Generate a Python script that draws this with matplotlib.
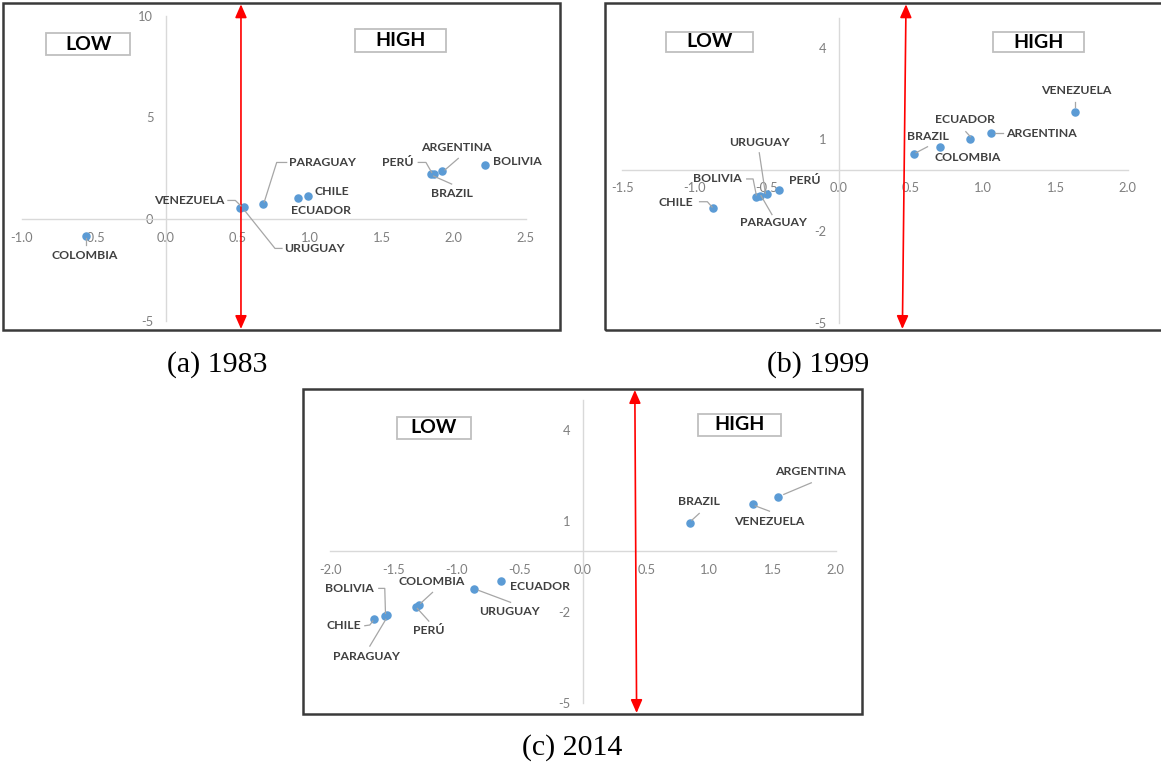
import matplotlib.pyplot as plt
from matplotlib.patches import Rectangle
from matplotlib.lines import Line2D

W, H = 1161, 764
plt.rcParams['font.family'] = ['Lato', 'DejaVu Sans']

# ---- data ----
countries_1983 = ['COLOMBIA', 'VENEZUELA', 'URUGUAY', 'PARAGUAY', 'ECUADOR',
                  'CHILE', 'PERÚ', 'BRAZIL', 'ARGENTINA', 'BOLIVIA']
x_1983 = [-0.555, 0.515, 0.543, 0.677, 0.92, 0.99, 1.84, 1.86, 1.92, 2.22]
y_1983 = [-0.82, 0.53, 0.58, 0.74, 1.03, 1.15, 2.24, 2.22, 2.35, 2.67]
cut_1983 = (0.522, 0.522)   # threshold line x at bottom / top

countries_1999 = ['VENEZUELA', 'ARGENTINA', 'ECUADOR', 'COLOMBIA', 'BRAZIL',
                  'PERÚ', 'URUGUAY', 'PARAGUAY', 'BOLIVIA', 'CHILE']
x_1999 = [1.636, 1.055, 0.911, 0.702, 0.519, -0.412, -0.499, -0.546, -0.573, -0.873]
y_1999 = [1.91, 1.20, 1.01, 0.75, 0.52, -0.66, -0.78, -0.84, -0.90, -1.26]
cut_1999 = (0.44, 0.465)

countries_2014 = ['ARGENTINA', 'VENEZUELA', 'BRAZIL', 'ECUADOR', 'URUGUAY',
                  'COLOMBIA', 'PERÚ', 'BOLIVIA', 'PARAGUAY', 'CHILE']
x_2014 = [1.547, 1.349, 0.846, -0.653, -0.865, -1.30, -1.32, -1.549, -1.57, -1.654]
y_2014 = [1.80, 1.55, 0.93, -0.98, -1.24, -1.77, -1.82, -2.10, -2.13, -2.23]
cut_2014 = (0.424, 0.41)

# label placement: offset (px right, px down), alignment, leader line vertices
labels_1983 = {
    'COLOMBIA': (-1, 20, 'center', [(0, 2.5), (0, 9)]),
    'VENEZUELA': (-16, -8, 'right', [(-12, -8), (-4.6, -8), (1, -2.5)]),
    'URUGUAY': (40, 41, 'left', [(1, 3.5), (31, 41), (38, 41)]),
    'PARAGUAY': (26, -41.7, 'left', [(23.4, -41.7), (13.4, -41.7), (1, -2.3)]),
    'ECUADOR': (22.4, 12.6, 'center', None),
    'CHILE': (6.6, -4, 'left', None),
    'PERÚ': (-17.5, -11.2, 'right', [(-12.5, -11.2), (-4.8, -11.2), (0.9, -1.2)]),
    'BRAZIL': (18, 19, 'center', [(0, 2), (18, 10)]),
    'ARGENTINA': (14.4, -24, 'center', [(16, -13), (2.7, -1.5)]),
    'BOLIVIA': (8, -3.4, 'left', None),
}
labels_1999 = {
    'VENEZUELA': (0.7, -21.7, 'center', [(0, -10), (0, -4.4)]),
    'ARGENTINA': (15, 0, 'left', [(4, 0), (11.4, 0)]),
    'ECUADOR': (-5.3, -19.2, 'center', [(-4.6, -7.5), (0, -2.5)]),
    'COLOMBIA': (27.2, 10.2, 'center', None),
    'BRAZIL': (13.7, -17.4, 'center', [(2.3, -1.4), (13.7, -7.4)]),
    'PERÚ': (9.2, -10.1, 'left', None),
    'URUGUAY': (-7.5, -51.1, 'center', [(-7.5, -41), (-1.4, -0.5)]),
    'PARAGUAY': (13.5, 27.1, 'center', [(12, 19), (1, 0)]),
    'BOLIVIA': (-14.8, -19.2, 'right', [(-9.4, -18.5), (-3, -18.5), (0.2, -2.5)]),
    'CHILE': (-19.7, -6.1, 'right', [(-13.2, -6.7), (-5.4, -6.7), (-0.7, -1.4)]),
}
labels_2014 = {
    'ARGENTINA': (32.1, -25.1, 'center', [(32.8, -14.1), (5.3, -2.5)]),
    'VENEZUELA': (16, 16.7, 'center', [(1.8, 1.4), (16, 6.7)]),
    'BRAZIL': (9.3, -21.4, 'center', [(9.3, -9.8), (2, -3.1)]),
    'ECUADOR': (9.3, 5.3, 'left', None),
    'URUGUAY': (36.1, 22.8, 'center', [(4.7, 1.4), (36.8, 13.4)]),
    'COLOMBIA': (12.7, -23.2, 'center', [(13.7, -12.6), (1.7, -1.6)]),
    'PERÚ': (12.8, 24.3, 'center', [(1, 1.9), (12.5, 14.6)]),
    'BOLIVIA': (-37.6, -26.6, 'center', [(-8.6, -26.6), (-2.6, -26.6), (-1.9, -1.6)]),
    'PARAGUAY': (-18.2, 40.9, 'center', [(-14.9, 30.2), (1.1, 3.5)]),
    'CHILE': (-13.3, 6.8, 'right', [(-9.3, 6.8), (-4.3, 6.1), (-1.3, 2.1)]),
}

fig = plt.figure(figsize=(W / 100, H / 100), dpi=100)


def box(l, t, r, b):
    """pixel box (top-left origin) -> figure fraction rect"""
    return [l / W, 1 - b / H, (r - l) / W, (b - t) / H]


def tag(l, t, r, b, text):
    fig.add_artist(Rectangle((l / W, 1 - b / H), (r - l) / W, (b - t) / H,
                             transform=fig.transFigure, facecolor='white',
                             edgecolor='#bfbfbf', lw=1.3))
    fig.text((l + r) / 2 / W, 1 - (t + b) / 2 / H, text, ha='center', va='center',
             fontsize=14, fontweight='bold', color='black')


def panel(frame, plot, xlim, xticks, ylim, yticks, names, xs, ys, layout, cut,
          low, high, caption, cap_xy):
    fl, ft, fr, fb = frame
    fig.add_artist(Rectangle((fl / W, 1 - fb / H), (fr - fl) / W, (fb - ft) / H,
                             transform=fig.transFigure, fill=False,
                             edgecolor='#3a3a3a', lw=1.8))
    ax = fig.add_axes(box(*plot))
    ax.patch.set_visible(False)
    ax.set_xlim(*xlim)
    ax.set_ylim(*ylim)
    for s in ['top', 'right']:
        ax.spines[s].set_visible(False)
    for s in ['left', 'bottom']:
        ax.spines[s].set_position(('data', 0))
        ax.spines[s].set_color('#d9d9d9')
        ax.spines[s].set_linewidth(1.0)
    ax.set_xticks(xticks)
    ax.set_xticklabels([f'{v:.1f}' for v in xticks])
    ax.set_yticks(yticks)
    ax.set_yticklabels([f'{v:d}' for v in yticks])
    ax.tick_params(length=0, labelsize=9.3, labelcolor='#7f7f7f')
    ax.tick_params(axis='x', pad=9)
    ax.tick_params(axis='y', pad=9)

    tag(*low, 'LOW')
    tag(*high, 'HIGH')

    ax.scatter(xs, ys, s=26, color='#5b9bd5', zorder=3, clip_on=False)
    for name, x, y in zip(names, xs, ys):
        dx, dy, ha, leader = layout[name]
        ax.annotate(name, (x, y), xytext=(dx, -dy), textcoords='offset pixels',
                    ha=ha, va='center', fontsize=8.8, fontweight='bold',
                    color='#404040', annotation_clip=False)
        if leader:
            bx, by = ax.transData.transform((x, y))
            lx = [(bx + p[0]) / W for p in leader]
            ly = [(by - p[1]) / H for p in leader]
            fig.add_artist(Line2D(lx, ly, transform=fig.transFigure,
                                  color='#a6a6a6', lw=0.9))

    ax.annotate('', xy=(cut[1], 1 - (ft + 1) / H), xytext=(cut[0], 1 - (fb - 1) / H),
                xycoords=('data', 'figure fraction'),
                textcoords=('data', 'figure fraction'),
                arrowprops=dict(arrowstyle='<|-|>,head_length=0.8,head_width=0.35',
                                color='red', lw=1.2, shrinkA=0, shrinkB=0),
                annotation_clip=False)

    fig.text(cap_xy[0] / W, 1 - cap_xy[1] / H, caption, ha='center', va='baseline',
             fontsize=21.5, family='Liberation Serif', color='black')
    return ax


panel((3, 3.3, 560, 330), (21.8, 15.7, 525.8, 321), (-1.0, 2.5),
      [-1.0, -0.5, 0.0, 0.5, 1.0, 1.5, 2.0, 2.5], (-5, 10), [-5, 0, 5, 10],
      countries_1983, x_1983, y_1983, labels_1983, cut_1983,
      (46.3, 33.3, 130, 55), (354.8, 29, 445.6, 52.3), '(a) 1983', (217, 372))

panel((604.7, 3.3, 1166, 330), (622.2, 17.5, 1127.7, 322.5), (-1.5, 2.0),
      [-1.5, -1.0, -0.5, 0.0, 0.5, 1.0, 1.5, 2.0], (-5, 5), [-5, -2, 1, 4],
      countries_1999, x_1999, y_1999, labels_1999, cut_1999,
      (666.2, 31.7, 753.1, 51.7), (992.5, 31.7, 1083.7, 52.3), '(b) 1999', (818, 372))

panel((303.3, 389, 862.3, 714), (330.4, 400, 835.7, 702.8), (-2.0, 2.0),
      [-2.0, -1.5, -1.0, -0.5, 0.0, 0.5, 1.0, 1.5, 2.0], (-5, 5), [-5, -2, 1, 4],
      countries_2014, x_2014, y_2014, labels_2014, cut_2014,
      (397, 416.5, 470.5, 439), (697.5, 414, 781.4, 435.7), '(c) 2014', (572, 755))

fig.savefig('out.png', dpi=100, facecolor='white')
